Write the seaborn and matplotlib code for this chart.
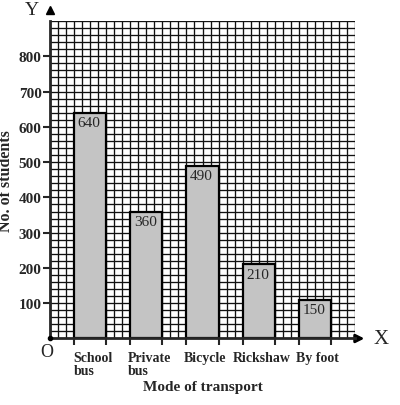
import matplotlib
matplotlib.use("Agg")
from matplotlib import pyplot as plt
import seaborn as sns
import pandas as pd
import numpy as np

modes = ["School\nbus", "Private\nbus", "Bicycle", "Rickshaw", "By foot"]
students = [640, 360, 490, 210, 110]  # drawn heights
bar_labels = ["640", "360", "490", "210", "150"]
y_ticks = [100, 200, 300, 400, 500, 600, 700, 800]

df = pd.DataFrame({"mode": modes, "students": students})

sns.set_style("white")
plt.rcParams["font.family"] = ["Liberation Serif", "DejaVu Serif"]

fig = plt.figure(figsize=(4.0, 4.06), dpi=100)
ax = fig.add_axes([0.125, 0.1638, 0.7625, 0.782])

bar_w = 4 / 7
sns.barplot(data=df, x="mode", y="students", ax=ax, width=bar_w,
            color="#c4c4c4", edgecolor="black", linewidth=1.6, saturation=1, zorder=3)

x_lo, x_hi = -5 / 7, 33 / 7
ax.set_xlim(x_lo, x_hi)
ax.set_ylim(0, 900)

# graph paper grid
for gx in np.arange(0, 39) / 7 + x_lo:
    ax.axvline(gx, color="#111111", lw=0.95, zorder=1)
for gy in np.arange(20, 901, 20):
    ax.axhline(gy, color="#111111", lw=0.95, zorder=1)

for i, (v, lab) in enumerate(zip(students, bar_labels)):
    ax.text(i - 0.02, v - 10, lab, ha="center", va="top", fontsize=11, zorder=4)

for s in ["top", "right"]:
    ax.spines[s].set_visible(False)
ax.spines["left"].set_linewidth(2)
ax.spines["bottom"].set_linewidth(2)
ax.spines["left"].set_zorder(5)
ax.spines["bottom"].set_zorder(5)

ax.set_yticks(y_ticks)
ax.set_yticklabels([str(t) for t in y_ticks], fontweight="bold", fontsize=11)
ax.tick_params(axis="y", length=5, width=1.5, direction="out", left=True, pad=1)

# labels under bars, tick marks at bar edges
pos = np.arange(len(modes))
ax.set_xticks(pos + 0.05)
ax.set_xticklabels(modes, fontweight="bold", fontsize=10, linespacing=1.0, ha="center",
                   multialignment="left")
ax.tick_params(axis="x", which="major", length=0, pad=9)
edges = np.concatenate([pos - bar_w / 2, pos + bar_w / 2])
ax.set_xticks(edges, minor=True)
ax.tick_params(axis="x", which="minor", length=5, width=1.5, direction="out", bottom=True)

ax.set_xlabel("Mode of transport", fontweight="bold", fontsize=11, labelpad=2)
ax.set_ylabel("No. of students", fontweight="bold", fontsize=11.5, labelpad=3)

# axis arrows and labels
ax.annotate("", xy=(1.04, 0), xytext=(0.99, 0), xycoords="axes fraction",
            arrowprops=dict(arrowstyle="-|>", color="black", lw=2, mutation_scale=12),
            annotation_clip=False)
ax.text(1.06, 0, "X", transform=ax.transAxes, fontsize=15, va="center", ha="left")
ax.plot([0], [1.035], marker="^", color="black", markersize=6, transform=ax.transAxes, clip_on=False)
ax.text(-0.035, 1.035, "Y", transform=ax.transAxes, fontsize=14, va="center", ha="right")
ax.text(-0.01, -0.015, "O", transform=ax.transAxes, fontsize=13, va="top", ha="center")
ax.plot([0], [0], marker="o", color="black", markersize=3, transform=ax.transAxes, clip_on=False, zorder=6)

fig.savefig("out.png", dpi=100)
